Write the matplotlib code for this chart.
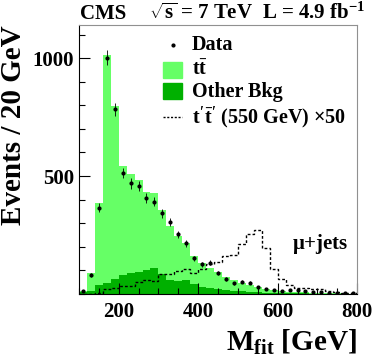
import numpy as np
import matplotlib
matplotlib.use("Agg")
import matplotlib.pyplot as plt
from matplotlib.ticker import FixedLocator, MultipleLocator

# ROOT-like bold Times look
plt.rcParams["font.family"] = ["Liberation Serif", "DejaVu Serif"]
plt.rcParams["font.weight"] = "bold"
plt.rcParams["mathtext.fontset"] = "custom"
plt.rcParams["mathtext.rm"] = "Liberation Serif:bold"
plt.rcParams["mathtext.it"] = "Liberation Serif:bold"
plt.rcParams["mathtext.bf"] = "Liberation Serif:bold"

# 20 GeV bins from 100 to 800 GeV
bin_edges = np.arange(100, 801, 20)

# stack top (ttbar + other background)
total_bkg = [12, 88, 388, 1013, 797, 542, 507, 482, 432, 428,
             356, 288, 246, 218, 160, 131, 112, 95, 74, 59,
             46, 38, 31, 21, 15, 11, 10, 8, 7, 6,
             5, 4, 4, 3, 2]
other_bkg = [10, 14, 38, 45, 62, 80, 88, 95, 100, 112,
             85, 58, 56, 58, 42, 30, 25, 20, 17, 14,
             13, 10, 8, 6, 5, 4, 4, 3, 3, 2,
             2, 2, 1, 1, 1]
data = [14, 79, 366, 1001, 783, 513, 469, 458, 407, 391,
        342, 305, 253, 215, 151, 126, 133, 88, 64, 45,
        52, 48, 28, 20, 17, 13, 18, 15, 13, 7,
        7, 6, 5, 5, 3]
signal_x50 = [0, 0, 3, 20, 24, 35, 35, 52, 59, 57,
              85, 86, 96, 104, 88, 104, 126, 137, 161, 165,
              210, 254, 271, 193, 104, 63, 38, 24, 24, 22,
              20, 13, 8, 5, 3]

light_green = "#66ff66"
dark_green = "#00b000"

fig = plt.figure(figsize=(3.74, 3.59), dpi=100)
ax = fig.add_axes([0.211, 0.181, 0.744, 0.749])

ax.stairs(total_bkg, bin_edges, fill=True, color=light_green, lw=0)
ax.stairs(other_bkg, bin_edges, fill=True, color=dark_green, lw=0)
ax.stairs(signal_x50, bin_edges, color="black", lw=1.0, linestyle=(0, (2, 1.5)))

centers = 0.5 * (bin_edges[:-1] + bin_edges[1:])
data_arr = np.array(data, dtype=float)
ax.errorbar(centers, data_arr, yerr=np.sqrt(data_arr), fmt="o", ms=2.0,
            color="black", elinewidth=0.6, capsize=0)

ax.set_xlim(100, 800)
ax.set_ylim(0, 1140)

ax.xaxis.set_major_locator(MultipleLocator(200))
ax.xaxis.set_minor_locator(MultipleLocator(50))
ax.yaxis.set_major_locator(FixedLocator([500, 1000]))
ax.yaxis.set_minor_locator(MultipleLocator(100))
ax.tick_params(which="both", direction="in", top=False, right=False,
               labelsize=15, width=0.8)
ax.tick_params(which="major", length=8)
ax.tick_params(which="minor", length=4)
ax.tick_params(axis="x", pad=6)
for spine in ["top", "right"]:
    ax.spines[spine].set_color("#909090")
    ax.spines[spine].set_linewidth(0.8)
for spine in ["left", "bottom"]:
    ax.spines[spine].set_linewidth(0.8)

ax.set_xlabel(r"M$_{\rm fit}$ [GeV]", fontsize=21, fontweight="bold", loc="right")
ax.set_ylabel("Events / 20 GeV", fontsize=21, fontweight="bold", loc="top")

title_y = 0.962
fig.text(0.214, title_y, "CMS", fontsize=15, fontweight="bold", va="center")
fig.text(0.398, title_y, r"$\sqrt{s}$ = 7 TeV", fontsize=15, fontweight="bold", va="center")
fig.text(0.700, title_y, r"L = 4.9 fb$^{-1}$", fontsize=15, fontweight="bold", va="center")

# legend drawn by hand, ROOT style
box_x, box_w, leg_text = 0.436, 0.051, 0.513
rows = [0.875, 0.805, 0.745, 0.674]
fs = 14.5
ax.plot([box_x + box_w / 2], [rows[0]], "o", ms=2.0, color="black",
        transform=fig.transFigure, clip_on=False)
fig.text(leg_text, rows[0], "Data", fontsize=fs, fontweight="bold", va="center")
fig.patches.append(plt.Rectangle((box_x, rows[1] - 0.022), box_w, 0.045,
                                 color=light_green, transform=fig.transFigure))
fig.text(leg_text, rows[1], r"$t\bar{t}$", fontsize=fs, fontweight="bold", va="center")
fig.patches.append(plt.Rectangle((box_x, rows[2] - 0.022), box_w, 0.045,
                                 color=dark_green, transform=fig.transFigure))
fig.text(leg_text, rows[2], "Other Bkg", fontsize=fs, fontweight="bold", va="center")
ax.plot([box_x, box_x + box_w], [rows[3], rows[3]], color="black", lw=1.0,
        linestyle=(0, (1.5, 1.2)), transform=fig.transFigure, clip_on=False)
fig.text(leg_text, rows[3], r"$t'\bar{t}'$ (550 GeV) $\times$50", fontsize=fs,
         fontweight="bold", va="center")

ax.text(0.765, 0.143, r"$\mu$+jets", transform=ax.transAxes, fontsize=15,
        fontweight="bold", va="bottom")

fig.savefig("out.png", dpi=100)
